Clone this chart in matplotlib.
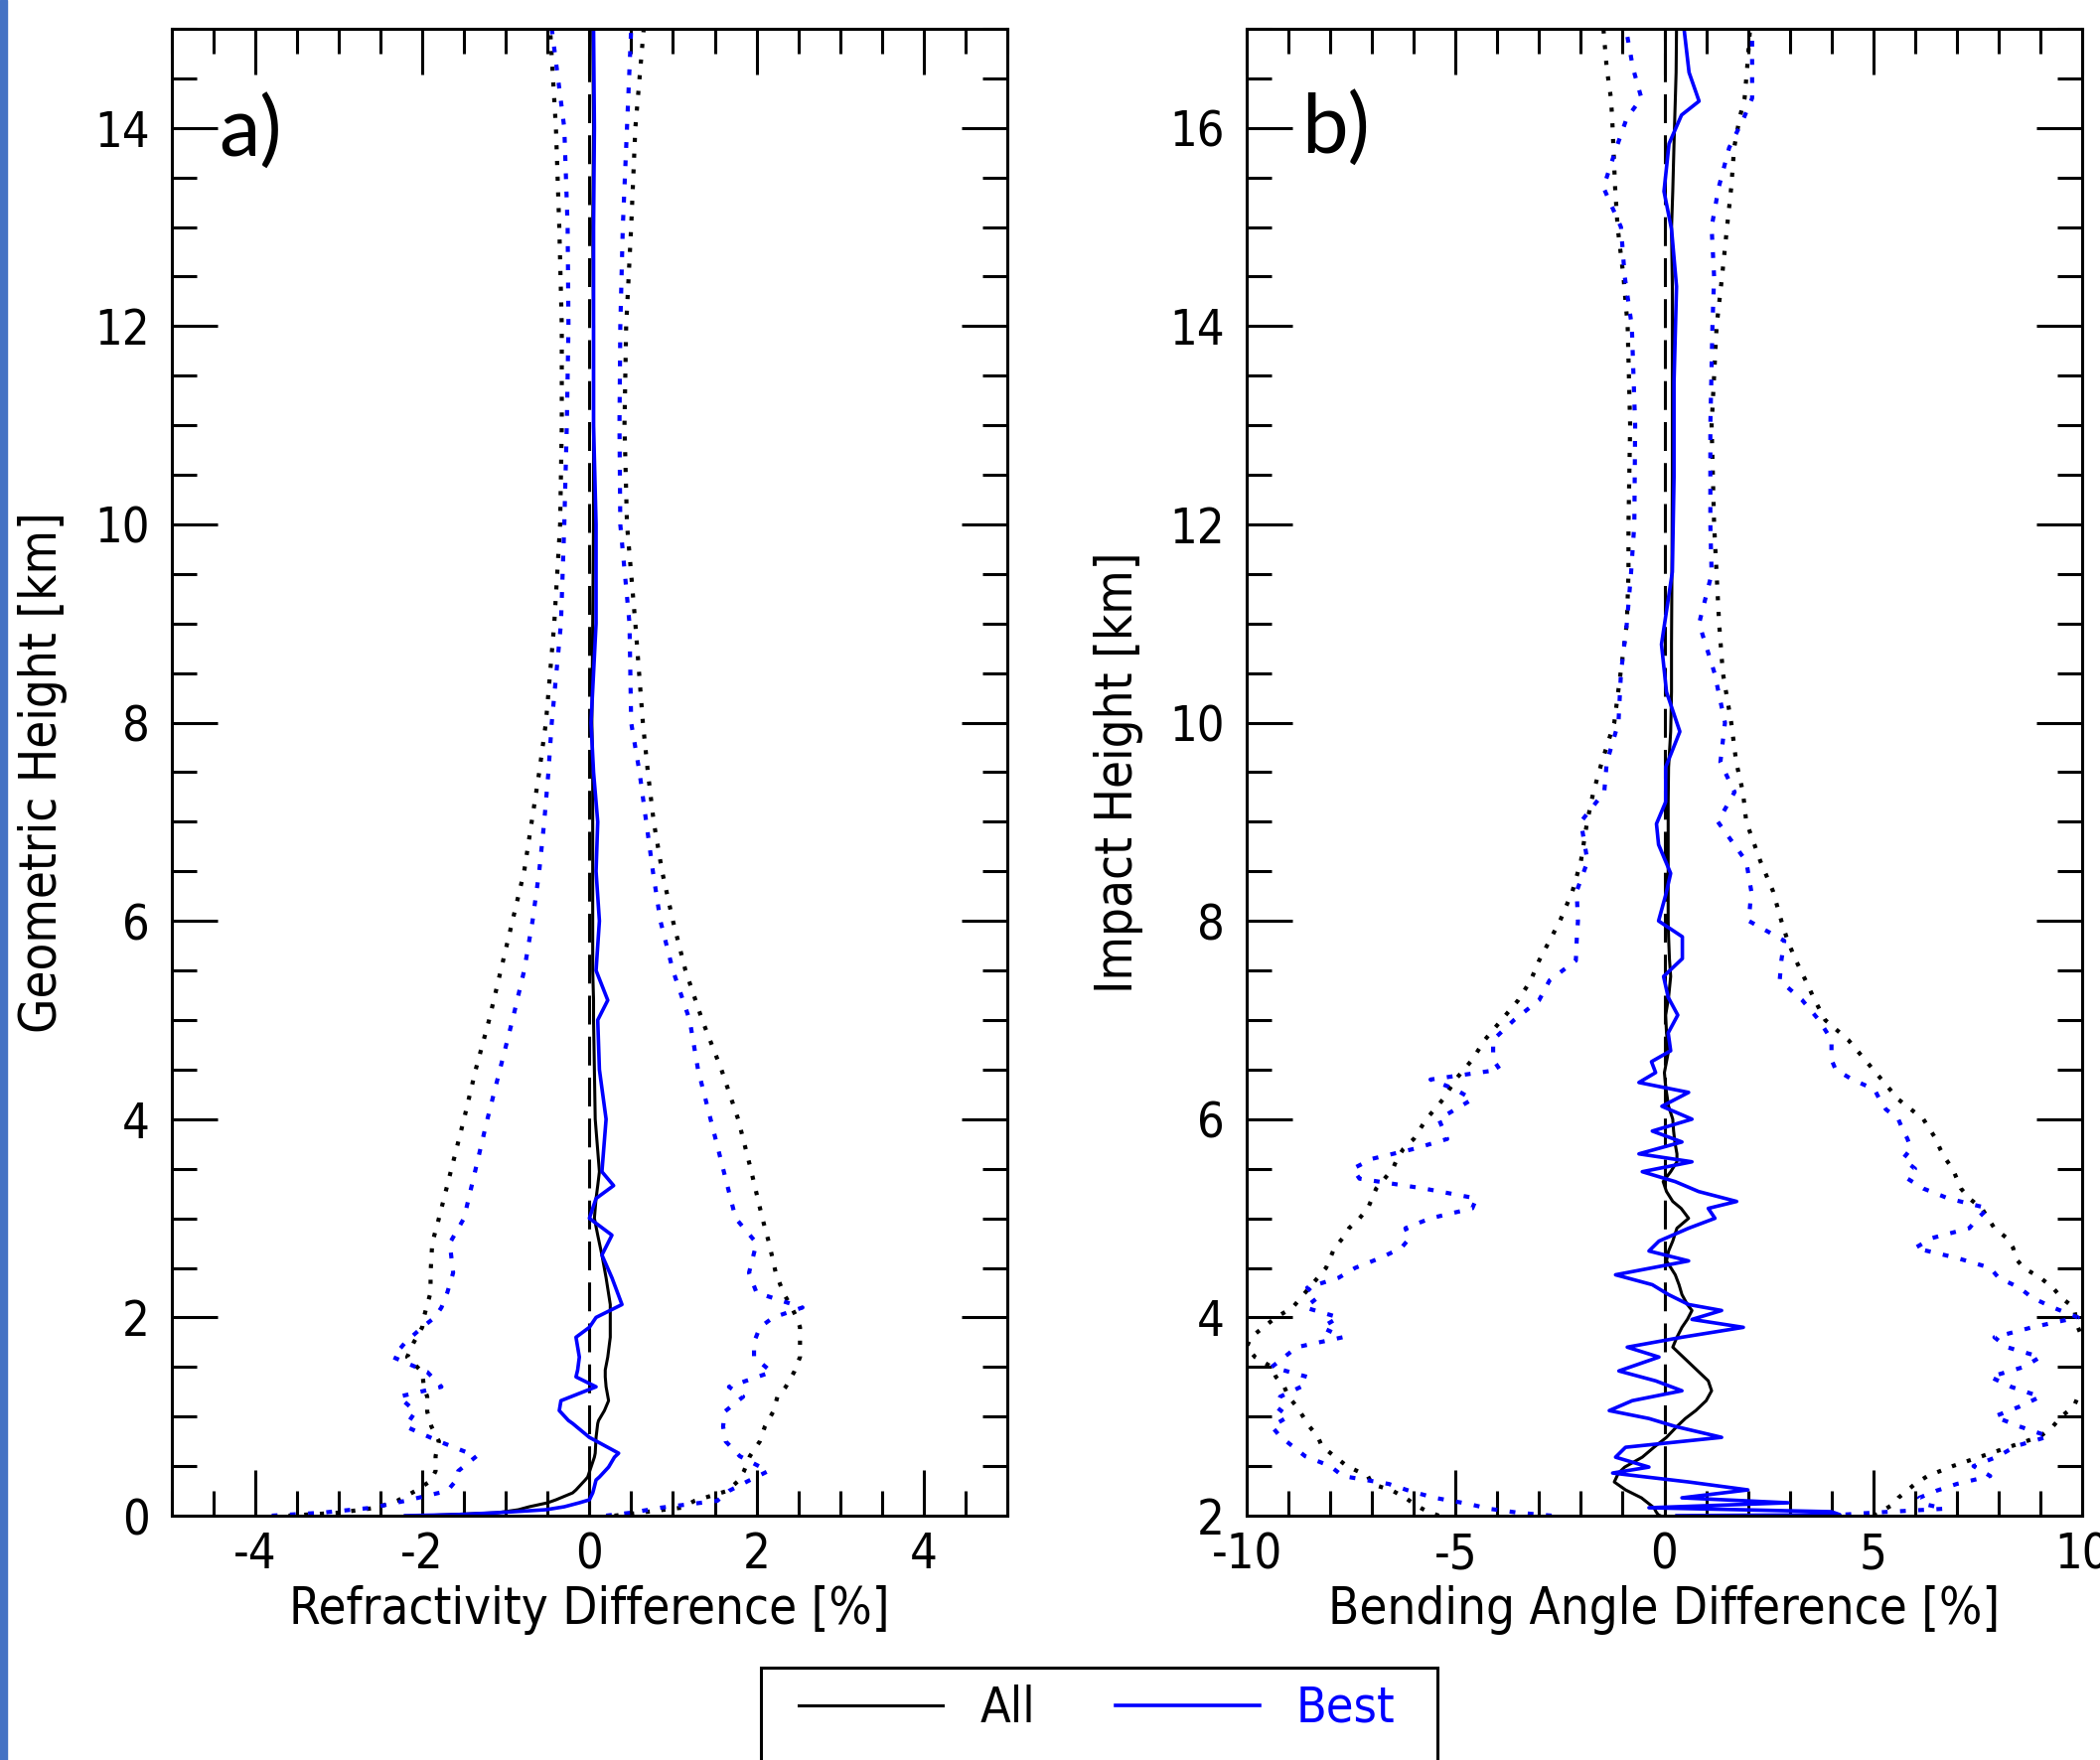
import matplotlib
matplotlib.use('Agg')
import matplotlib.pyplot as plt
from matplotlib.patches import Rectangle
from matplotlib.ticker import MultipleLocator

plt.rcParams['font.family'] = 'DejaVu Sans'
plt.rcParams['font.stretch'] = 'condensed'
plt.rcParams['axes.unicode_minus'] = False

# ---- panel a: refractivity difference [%] vs geometric height [km]
# mean profiles
h_am = [0.0, 0.01, 0.03, 0.06, 0.09, 0.13, 0.16, 0.23, 0.26, 0.36,
        0.39, 0.49, 0.59, 0.63, 0.79, 0.93, 0.96, 1.06, 1.16, 1.3,
        1.4, 1.47, 1.6, 1.8, 1.9, 2.0, 2.13, 2.4, 2.63, 2.83,
        3.0, 3.2, 3.33, 3.47, 4.0, 4.5, 5.0, 5.2, 5.5, 6.0,
        6.5, 7.0, 7.5, 8.0, 9.0, 10.0, 11.0, 12.0, 13.0, 14.0, 15.0]
a_all_mean = [-2.0, -1.7, -1.1, -0.85, -0.72, -0.5, -0.4, -0.2, -0.16, -0.05,
              -0.02, 0.02, 0.06, 0.07, 0.08, 0.1, 0.11, 0.18, 0.23, 0.2,
              0.19, 0.19, 0.22, 0.25, 0.25, 0.25, 0.25, 0.2, 0.15, 0.1,
              0.06, 0.08, 0.1, 0.12, 0.07, 0.06, 0.05, 0.05, 0.04, 0.04,
              0.04, 0.04, 0.04, 0.03, 0.04, 0.05, 0.05, 0.05, 0.04, 0.05, 0.04]
a_best_mean = [-2.2, -1.6, -1.1, -0.52, -0.3, -0.12, 0.0, 0.04, 0.05, 0.08,
               0.12, 0.23, 0.3, 0.35, 0.0, -0.2, -0.25, -0.36, -0.34, 0.08,
               -0.16, -0.14, -0.12, -0.16, 0.0, 0.08, 0.39, 0.27, 0.15, 0.27,
               0.0, 0.08, 0.29, 0.15, 0.2, 0.12, 0.1, 0.22, 0.08, 0.12,
               0.08, 0.1, 0.05, 0.02, 0.08, 0.08, 0.05, 0.05, 0.05, 0.06, 0.05]
# mean -/+ one standard deviation
h_a = [0.0, 0.03, 0.08, 0.15, 0.25, 0.35, 0.45, 0.6, 0.75, 0.9, 1.05, 1.2, 1.3, 1.45,
       1.6, 1.75, 1.9, 2.0, 2.1, 2.25, 2.45, 2.75, 3.0, 3.5, 4.0, 4.5, 5.0, 5.5, 6.0,
       6.5, 7.0, 7.5, 8.0, 9.0, 10.0, 11.0, 12.0, 13.0, 14.0, 15.0]
a_all_lo = [-3.6, -3.0, -2.55, -2.3, -2.08, -1.9, -1.84, -1.84, -1.8, -1.89, -1.94, -1.94, -1.98, -2.0,
            -2.18, -2.1, -2.0, -1.98, -1.95, -1.9, -1.9, -1.88, -1.8, -1.65, -1.5, -1.36, -1.2, -1.06, -0.92,
            -0.78, -0.69, -0.6, -0.52, -0.42, -0.35, -0.33, -0.33, -0.36, -0.4, -0.47]
a_all_hi = [0.3, 0.6, 1.1, 1.26, 1.65, 1.78, 1.85, 1.92, 2.04, 2.1, 2.2, 2.25, 2.35, 2.45,
            2.52, 2.52, 2.52, 2.48, 2.42, 2.32, 2.23, 2.15, 2.07, 1.93, 1.78, 1.58, 1.35, 1.15, 1.0,
            0.87, 0.77, 0.7, 0.64, 0.55, 0.45, 0.42, 0.44, 0.5, 0.55, 0.65]
a_best_lo = [-3.8, -3.2, -2.6, -2.2, -1.7, -1.6, -1.57, -1.35, -1.8, -2.2, -2.08, -2.28, -1.77, -1.94,
             -2.35, -2.2, -2.0, -1.85, -1.77, -1.7, -1.63, -1.67, -1.5, -1.36, -1.22, -1.07, -0.92, -0.78, -0.68,
             -0.6, -0.54, -0.49, -0.45, -0.34, -0.3, -0.27, -0.25, -0.26, -0.3, -0.45]
a_best_hi = [0.2, 0.5, 0.85, 1.53, 1.67, 1.9, 2.14, 1.8, 1.63, 1.6, 1.62, 1.84, 1.67, 2.18,
             1.97, 1.97, 2.04, 2.2, 2.55, 2.0, 1.91, 2.0, 1.75, 1.6, 1.45, 1.3, 1.2, 1.0, 0.85,
             0.76, 0.68, 0.6, 0.5, 0.48, 0.37, 0.36, 0.37, 0.4, 0.45, 0.5]

# ---- panel b: bending angle difference [%] vs impact height [km]
h_bm = [2.0, 2.01, 2.04, 2.08, 2.13, 2.18, 2.26, 2.34, 2.43, 2.49,
        2.59, 2.69, 2.79, 2.9, 2.98, 3.06, 3.16, 3.26, 3.36, 3.46,
        3.6, 3.7, 3.8, 3.9, 3.98, 4.07, 4.13, 4.23, 4.33, 4.43,
        4.57, 4.67, 4.77, 4.9, 5.0, 5.1, 5.17, 5.27, 5.37, 5.47,
        5.57, 5.65, 5.77, 5.88, 6.0, 6.13, 6.27, 6.37, 6.47, 6.58,
        6.69, 6.87, 7.05, 7.23, 7.44, 7.62, 7.84, 8.0, 8.26, 8.48,
        8.77, 8.98, 9.2, 9.55, 9.91, 10.31, 10.79, 11.52, 12.48, 13.44,
        14.4, 14.98, 15.36, 15.84, 16.13, 16.27, 16.56, 17.0]
b_best_mean = [0.3, 4.2, 4.0, -0.37, 2.96, 0.42, 2.0, 0.58, -1.24, -0.37,
               -1.17, -0.93, 1.37, 0.26, -0.37, -1.32, -0.77, 0.42, -0.21, -1.09,
               -0.13, -0.89, 0.42, 1.89, 0.66, 1.37, 0.58, 0.1, -0.29, -1.17,
               0.58, -0.37, -0.13, 0.58, 1.21, 1.05, 1.73, 0.82, 0.26, -0.53,
               0.66, -0.61, 0.42, -0.29, 0.66, -0.06, 0.58, -0.61, -0.21, -0.31,
               0.15, 0.09, 0.32, 0.09, -0.02, 0.43, 0.43, -0.14, 0.03, 0.15,
               -0.14, -0.19, 0.03, 0.03, 0.37, 0.05, -0.07, 0.19, 0.23, 0.23,
               0.29, 0.17, -0.01, 0.11, 0.41, 0.83, 0.59, 0.47]
b_all_mean = [-0.1, -0.15, -0.2, -0.25, -0.4, -0.55, -0.93, -1.2, -1.1, -0.95,
              -0.53, -0.25, 0.05, 0.3, 0.5, 0.75, 1.0, 1.13, 1.05, 0.8,
              0.45, 0.2, 0.3, 0.42, 0.55, 0.66, 0.55, 0.42, 0.35, 0.26,
              0.05, 0.1, 0.2, 0.3, 0.58, 0.4, 0.2, 0.05, -0.03, 0.15,
              0.3, 0.3, 0.25, 0.22, 0.2, 0.1, 0.05, 0.02, 0.0, 0.05,
              0.1, 0.05, 0.03, 0.1, 0.15, 0.12, 0.1, 0.09, 0.09, 0.09,
              0.09, 0.09, 0.09, 0.1, 0.15, 0.17, 0.17, 0.18, 0.19, 0.19,
              0.19, 0.17, 0.2, 0.23, 0.25, 0.26, 0.28, 0.29]
h_b = [2.0, 2.03, 2.07, 2.12, 2.18, 2.25, 2.32, 2.4, 2.5, 2.6, 2.7, 2.8, 2.9, 3.0, 3.1, 3.2,
       3.3, 3.4, 3.5, 3.6, 3.7, 3.8, 3.9, 4.0, 4.1, 4.2, 4.3, 4.4, 4.5, 4.6, 4.7, 4.8, 4.9,
       5.0, 5.1, 5.2, 5.3, 5.4, 5.5, 5.6, 5.7, 5.8, 5.9, 6.0, 6.1, 6.2, 6.3, 6.4, 6.5, 6.6,
       6.8, 7.0, 7.2, 7.4, 7.6, 7.8, 8.0, 8.3, 8.6, 9.0, 9.3, 9.6, 10.0, 10.5, 11.0, 11.5,
       12.0, 13.0, 14.0, 14.5, 15.0, 15.4, 15.8, 16.1, 16.3, 16.6, 17.0]
b_all_lo = [-5.4, -5.6, -5.8, -6.0, -6.2, -6.5, -7.0, -7.1, -7.6, -7.9, -8.2, -8.3, -8.5, -8.65, -8.8, -9.0,
            -9.1, -9.3, -9.4, -9.8, -10.0, -9.9, -9.6, -9.3, -8.9, -8.7, -8.5, -8.3, -8.1, -8.0, -7.9, -7.7, -7.55,
            -7.3, -7.1, -7.0, -6.9, -6.7, -6.5, -6.4, -6.25, -6.0, -5.85, -5.7, -5.5, -5.3, -5.15, -5.0, -4.8, -4.6,
            -4.3, -3.9, -3.5, -3.2, -3.0, -2.75, -2.5, -2.2, -2.0, -1.85, -1.7, -1.5, -1.2, -1.05, -0.9, -0.86,
            -0.86, -0.82, -0.88, -0.98, -1.12, -1.18, -1.22, -1.25, -1.28, -1.38, -1.46]
b_all_hi = [5.0, 5.2, 5.3, 5.5, 5.6, 5.8, 6.0, 6.3, 6.9, 7.6, 8.3, 9.0, 9.3, 9.5, 9.8, 9.9,
            10.1, 10.2, 10.2, 10.2, 10.1, 10.0, 9.9, 9.85, 9.8, 9.5, 9.3, 9.0, 8.6, 8.4, 8.35, 8.2, 7.9,
            7.75, 7.6, 7.3, 7.1, 7.0, 6.9, 6.73, 6.6, 6.5, 6.35, 6.2, 5.9, 5.6, 5.4, 5.2, 5.0, 4.8,
            4.4, 3.85, 3.6, 3.38, 3.15, 2.95, 2.8, 2.6, 2.3, 1.96, 1.88, 1.72, 1.6, 1.4, 1.31, 1.25,
            1.19, 1.13, 1.25, 1.38, 1.5, 1.6, 1.67, 1.8, 1.92, 1.98, 2.05]
b_best_lo = [-2.7, -3.5, -4.2, -4.7, -5.5, -6.1, -6.6, -7.7, -8.0, -8.6, -8.9, -9.2, -9.4, -9.0, -9.3, -9.2,
             -8.7, -8.55, -9.4, -9.1, -8.8, -7.7, -8.2, -7.8, -8.6, -8.3, -8.55, -7.8, -7.4, -6.8, -6.3, -6.1, -6.2,
             -5.6, -4.6, -4.5, -5.75, -7.3, -7.46, -7.0, -6.0, -5.2, -5.3, -5.4, -5.0, -4.6, -5.0, -5.6, -3.94, -4.1,
             -4.1, -3.6, -3.0, -2.75, -2.12, -2.1, -2.07, -2.1, -1.84, -2.0, -1.44, -1.38, -1.1, -1.04, -0.9, -0.8,
             -0.72, -0.7, -0.78, -0.95, -1.04, -1.46, -1.15, -0.9, -0.55, -0.75, -0.92]
b_best_hi = [3.9, 5.0, 6.7, 6.2, 6.1, 6.5, 7.0, 7.8, 7.4, 8.0, 8.4, 9.2, 8.5, 7.9, 8.5, 9.0,
             8.3, 7.8, 8.6, 9.0, 8.2, 7.9, 8.8, 9.9, 9.3, 8.8, 8.5, 8.0, 7.8, 7.0, 6.0, 6.4, 7.3,
             7.5, 7.75, 6.8, 6.2, 5.82, 6.0, 5.71, 5.9, 5.82, 5.7, 5.6, 5.3, 5.15, 5.03, 4.5, 4.1, 4.0,
             4.0, 3.7, 3.3, 2.76, 2.8, 2.87, 2.02, 2.08, 1.96, 1.28, 1.68, 1.34, 1.45, 1.2, 0.83, 1.13,
             1.1, 1.1, 1.15, 1.19, 1.13, 1.3, 1.55, 1.9, 2.1, 2.1, 2.1]

W, H = 2114, 1772
fig = plt.figure(figsize=(W / 100, H / 100), dpi=100)


def add_ax(x0, y0, x1, y1):
    # pixel box (top-left origin) -> figure fraction
    return fig.add_axes([x0 / W, 1 - y1 / H, (x1 - x0) / W, (y1 - y0) / H])


def draw(ax, hm, all_mean, best_mean, h, all_lo, all_hi, best_lo, best_hi):
    ax.axvline(0, color='black', lw=2.2, linestyle=(0, (9.5, 4)), zorder=1)
    for xs in (all_lo, all_hi):
        ax.plot(xs, h, color='black', lw=3, linestyle=(0, (1, 2.8)))
    for xs in (best_lo, best_hi):
        ax.plot(xs, h, color='blue', lw=3, linestyle=(0, (1.4, 3.0)))
    la, = ax.plot(all_mean, hm, color='black', lw=2.2)
    lb, = ax.plot(best_mean, hm, color='blue', lw=2.6)
    return la, lb


def style(ax, xlim, ylim, xmaj, xmin, ymaj, ymin):
    ax.set_xlim(*xlim)
    ax.set_ylim(*ylim)
    ax.xaxis.set_major_locator(MultipleLocator(xmaj))
    ax.xaxis.set_minor_locator(MultipleLocator(xmin))
    ax.yaxis.set_major_locator(MultipleLocator(ymaj))
    ax.yaxis.set_minor_locator(MultipleLocator(ymin))
    ax.tick_params(which='both', direction='in', top=True, right=True, width=2.2,
                   labelsize=35, color='black')
    ax.tick_params(axis='y', which='major', pad=16)
    ax.tick_params(axis='x', which='major', pad=11)
    ax.tick_params(which='major', length=33)
    ax.tick_params(which='minor', length=18)
    for s in ax.spines.values():
        s.set_linewidth(2.2)


ax_a = add_ax(172.6, 29, 1014, 1526)
ax_b = add_ax(1255, 29, 2096, 1526)

l_all, l_best = draw(ax_a, h_am, a_all_mean, a_best_mean,
                     h_a, a_all_lo, a_all_hi, a_best_lo, a_best_hi)
draw(ax_b, h_bm, b_all_mean, b_best_mean,
     h_b, b_all_lo, b_all_hi, b_best_lo, b_best_hi)

style(ax_a, (-5, 5), (0, 15), 2, 0.5, 2, 0.5)
style(ax_b, (-10, 10), (2, 17), 5, 1, 2, 0.5)

ax_a.set_xlabel('Refractivity Difference [%]', fontsize=36.5, labelpad=5)
ax_a.set_ylabel('Geometric Height [km]', fontsize=36.5, labelpad=19)
ax_b.set_xlabel('Bending Angle Difference [%]', fontsize=36.5, labelpad=5)
ax_b.set_ylabel('Impact Height [km]', fontsize=36.5, labelpad=19)

# panel letters
fig.text(220 / W, 1 - 158 / H, 'a)', fontsize=60, family='Lato', stretch='normal',
         ha='left', va='baseline')
fig.text(1310 / W, 1 - 155 / H, 'b)', fontsize=60, family='Lato', stretch='normal',
         ha='left', va='baseline')

# legend: box drawn separately so its padding matches the original
fig.patches.append(Rectangle((766 / W, -0.05), (1447 - 766) / W, 0.05 + (H - 1679) / H,
                             transform=fig.transFigure, facecolor='white',
                             edgecolor='black', lw=2.2, zorder=2))
fig.legend([l_all, l_best], ['All', 'Best'], loc='center',
           bbox_to_anchor=(1104.5 / W, 1 - 1720 / H), ncol=2, frameon=False,
           fontsize=36, handlelength=2.9, handletextpad=0.75, columnspacing=1.6,
           borderpad=0, labelcolor='linecolor')

# slide accent bar on the left edge
fig.patches.append(Rectangle((0, 0), 7 / W, 1, transform=fig.transFigure,
                             color='#4472C4', zorder=0))

fig.savefig('out.png', dpi=100)
